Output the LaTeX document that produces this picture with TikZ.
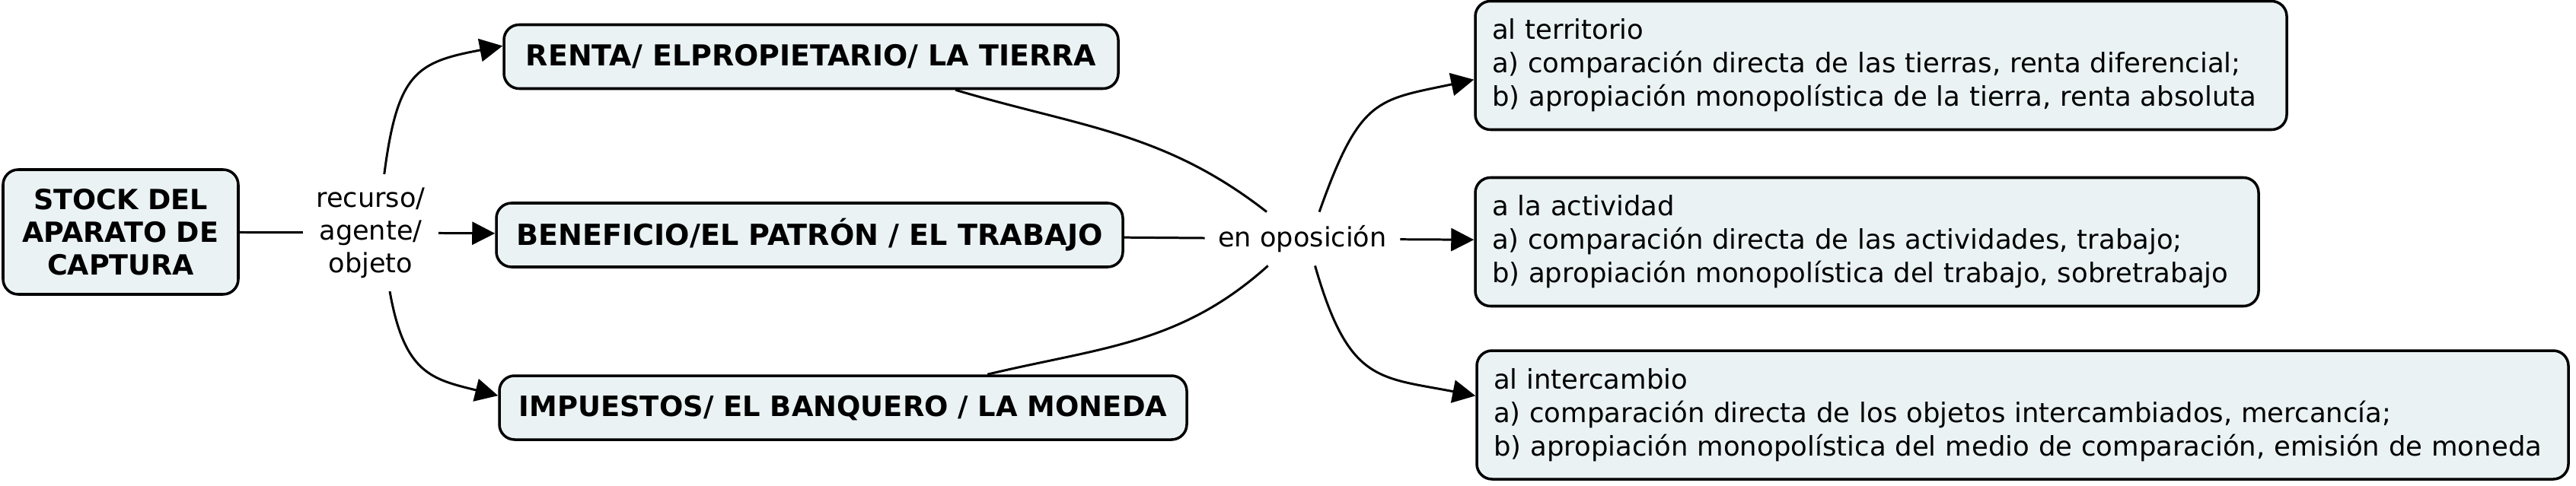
\documentclass[tikz,border=0pt]{standalone}
\usepackage{fontspec}
\setmainfont{DejaVu Sans}
\usetikzlibrary{arrows.meta}
\definecolor{boxfill}{RGB}{234,242,244}
\tikzset{
	box/.style={draw, line width=1pt, rounded corners=0.2cm, fill=boxfill, inner sep=0pt},
	capbox/.style={box, font=\fontsize{#1}{12.2}\selectfont\bfseries, align=center, minimum height=0.84cm},
	capbox/.default=10.4,
	txtbox/.style={box, font=\fontsize{10.1}{12.5}\selectfont, align=left, inner xsep=0.22cm, text width=#1, minimum height=1.69cm},
	lbl/.style={font=\fontsize{10}{12.2}\selectfont, align=center, inner sep=0.17cm},
	link/.style={line width=0.85pt},
	arr/.style={link, -{Triangle[length=0.30cm,width=0.30cm]}},
}

\begin{document}
\begin{tikzpicture}
			%%%%% START %%%%%
			\useasboundingbox (0,0) rectangle (33.84,-6.38);
			
			\node[capbox, minimum width=3.09cm, minimum height=1.64cm] (stock) at (1.585,-3.05) {STOCK DEL\\APARATO DE\\CAPTURA};
			\node[lbl] (rec) at (4.87,-3.06) {recurso/\\agente/\\objeto};
			
			\node[capbox=10.8, minimum width=8.07cm] (renta) at (10.655,-0.745) {RENTA/ ELPROPIETARIO/ LA TIERRA};
			\node[capbox=10.85, minimum width=8.23cm] (benef) at (10.635,-3.09) {BENEFICIO/EL PATRÓN / EL TRABAJO};
			\node[capbox=10.5, minimum width=9.03cm] (imp) at (11.075,-5.36) {IMPUESTOS/ EL BANQUERO / LA MONEDA};
			
			\node[lbl] (opo) at (17.11,-3.14) {en oposición};
			
			\node[txtbox=10.22cm] (terr) at (24.71,-0.86) {al territorio\\a) comparación directa de las tierras, renta diferencial;\\b) apropiación monopolística de la tierra, renta absoluta};
			\node[txtbox=9.85cm] (act) at (24.525,-3.18) {a la actividad\\a) comparación directa de las actividades, trabajo;\\b) apropiación monopolística del trabajo, sobretrabajo};
			\node[txtbox=13.90cm] (inter) at (26.57,-5.455) {al intercambio\\a) comparación directa de los objetos intercambiados, mercancía;\\b) apropiación monopolística del medio de comparación, emisión de moneda};
			
			\draw[link] (stock) -- (rec);
			\draw[arr] (rec) -- (benef);
			\draw[arr] (rec.77) .. controls +(82.6:1.35) and +(190.7:1.15) .. (renta.178.8);
			\draw[arr] (rec.-72) .. controls +(-80:1.1) and +(166:0.9) .. (imp.178.8);
			
			\draw[link] (renta.-13.7) to[out=-16.6,in=142] (opo.143);
			\draw[link] (benef) -- (opo);
			\draw[link] (imp.13.1) to[out=13.4,in=222] (opo.-142);
			
			\draw[arr] (opo.58) .. controls +(70.5:1.6) and +(192:1.3) .. (terr.-178.7);
			\draw[arr] (opo) -- (act);
			\draw[arr] (opo.-65) .. controls +(-74:1.6) and +(169:1.3) .. (inter.178.7);
			%%%%% END %%%%%
\end{tikzpicture}
\end{document}
